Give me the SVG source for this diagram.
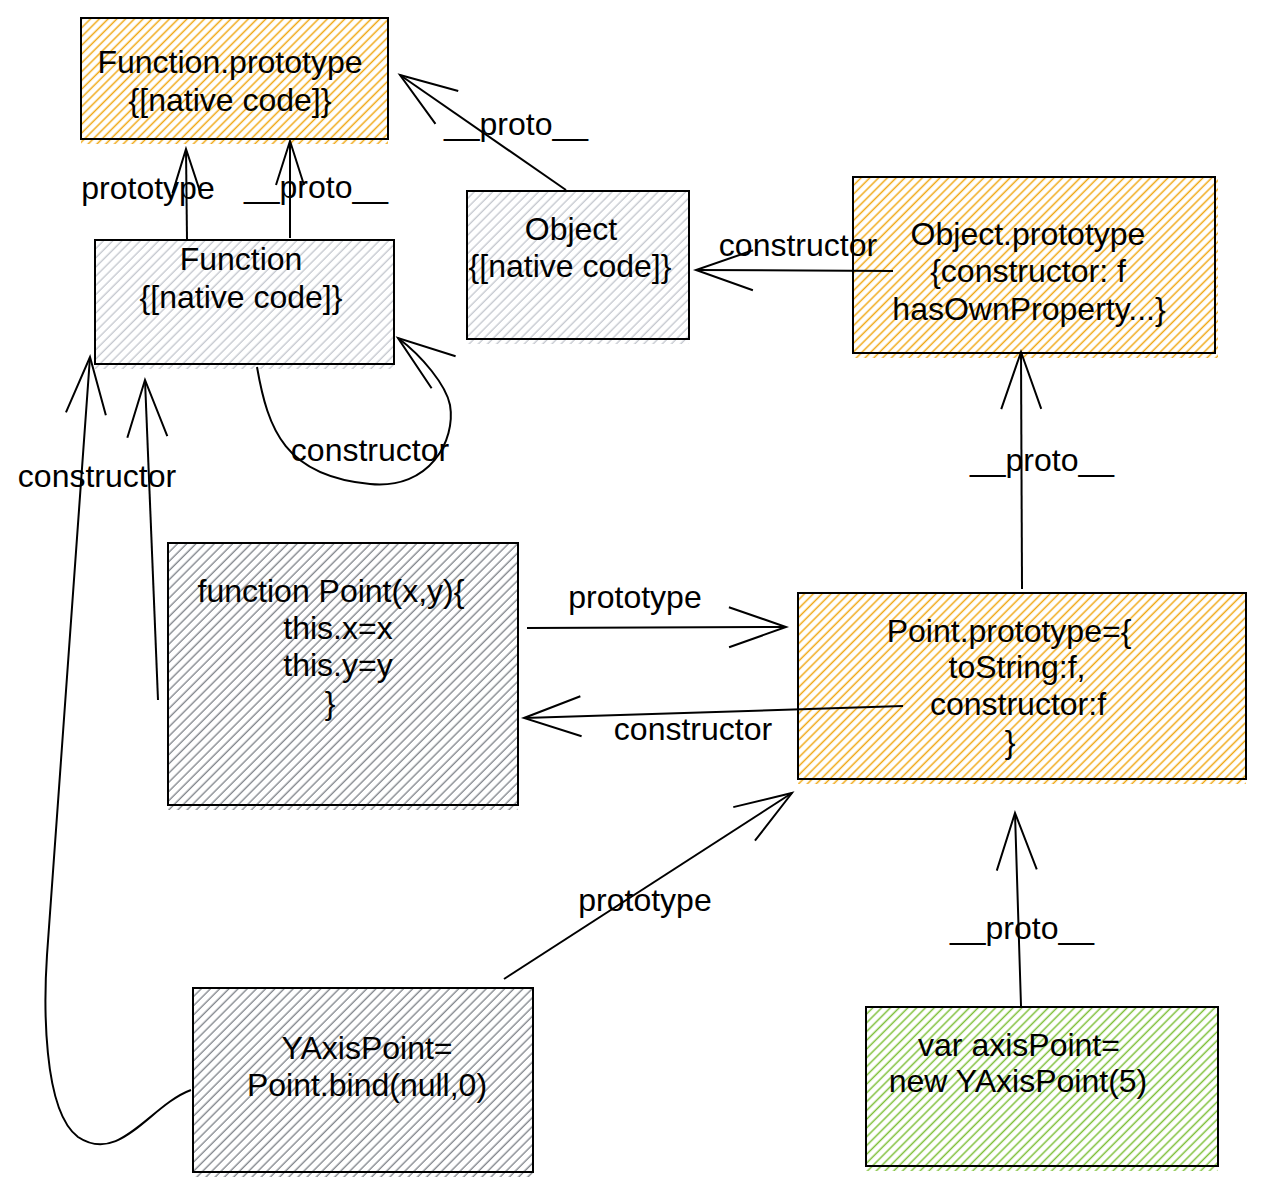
<svg xmlns="http://www.w3.org/2000/svg" width="1267" height="1194" viewBox="0 0 1267 1194">
<style>
text{font-family:"Liberation Sans",Arial,Helvetica,sans-serif;font-size:32px;fill:#000;text-anchor:middle}
.box{fill:none;stroke:#000;stroke-width:2}
.edge{fill:none;stroke:#000;stroke-width:2}
.big{marker-end:url(#arrowBig)}
.small{marker-end:url(#arrowSmall)}
</style>
<defs>
<pattern id="hOrange" patternUnits="userSpaceOnUse" width="6.2" height="6.2" patternTransform="rotate(45)"><line x1="3" y1="0" x2="3" y2="6.2" stroke="#f0a814" stroke-width="1.5"/></pattern>
<pattern id="hLight" patternUnits="userSpaceOnUse" width="6.5" height="6.5" patternTransform="rotate(45)"><line x1="3" y1="0" x2="3" y2="6.5" stroke="#c2c5cd" stroke-width="1.3"/></pattern>
<pattern id="hDark" patternUnits="userSpaceOnUse" width="6.5" height="6.5" patternTransform="rotate(45)"><line x1="3" y1="0" x2="3" y2="6.5" stroke="#7c8087" stroke-width="1.3"/></pattern>
<pattern id="hGreen" patternUnits="userSpaceOnUse" width="6.2" height="6.2" patternTransform="rotate(45)"><line x1="3" y1="0" x2="3" y2="6.2" stroke="#7dbf38" stroke-width="1.5"/></pattern>
<marker id="arrowBig" markerUnits="userSpaceOnUse" markerWidth="70" markerHeight="50" refX="0" refY="0" orient="auto" overflow="visible"><path d="M-57,-20 L0,0 L-57,20" fill="none" stroke="#000" stroke-width="2"/></marker>
<marker id="arrowSmall" markerUnits="userSpaceOnUse" markerWidth="60" markerHeight="40" refX="0" refY="0" orient="auto" overflow="visible"><path d="M-44,-14 L0,0 L-44,14" fill="none" stroke="#000" stroke-width="2"/></marker>
</defs>

<g id="node-function-prototype">
<rect x="81" y="18" width="307" height="126" fill="url(#hOrange)"/>
<rect class="box" x="81" y="18" width="307" height="121"/>
<text x="230" y="73">Function.prototype</text>
<text x="230" y="111">{[native code]}</text>
</g>

<g id="node-function">
<rect x="95" y="240" width="299" height="129" fill="url(#hLight)"/>
<rect class="box" x="95" y="240" width="299" height="124"/>
<text x="241" y="270">Function</text>
<text x="241" y="308">{[native code]}</text>
</g>

<g id="node-object">
<rect x="467" y="191" width="222" height="153" fill="url(#hLight)"/>
<rect class="box" x="467" y="191" width="222" height="148"/>
<text x="571" y="240">Object</text>
<text x="570" y="277">{[native code]}</text>
</g>

<g id="node-object-prototype">
<rect x="853" y="177" width="365" height="181" fill="url(#hOrange)"/>
<rect class="box" x="853" y="177" width="362" height="176"/>
<text x="1028" y="245">Object.prototype</text>
<text x="1028" y="282">{constructor: f</text>
<text x="1029" y="320">hasOwnProperty...}</text>
</g>

<g id="node-point">
<rect x="168" y="543" width="350" height="267" fill="url(#hDark)"/>
<rect class="box" x="168" y="543" width="350" height="262"/>
<text x="331" y="602">function Point(x,y){</text>
<text x="338" y="639">this.x=x</text>
<text x="338" y="676">this.y=y</text>
<text x="330" y="714">}</text>
</g>

<g id="node-point-prototype">
<rect x="798" y="593" width="448" height="191" fill="url(#hOrange)"/>
<rect class="box" x="798" y="593" width="448" height="186"/>
<text x="1009" y="642">Point.prototype={</text>
<text x="1017" y="678">toString:f,</text>
<text x="1018" y="715">constructor:f</text>
<text x="1010" y="753">}</text>
</g>

<g id="node-yaxispoint">
<rect x="193" y="988" width="340" height="189" fill="url(#hDark)"/>
<rect class="box" x="193" y="988" width="340" height="184"/>
<text x="367" y="1059">YAxisPoint=</text>
<text x="367" y="1096">Point.bind(null,0)</text>
</g>

<g id="node-axispoint">
<rect x="866" y="1007" width="352" height="164" fill="url(#hGreen)"/>
<rect class="box" x="866" y="1007" width="352" height="159"/>
<text x="1019" y="1056">var axisPoint=</text>
<text x="1018" y="1092">new YAxisPoint(5)</text>
</g>

<g id="connectors">
<g id="e-function-prototype">
<path class="edge small" d="M187,240 L186,149"/>
<text x="148" y="199">prototype</text>
</g>
<g id="e-function-proto">
<path class="edge small" d="M290,238 L290,141"/>
<text x="316" y="198">__proto__</text>
</g>
<g id="e-object-proto">
<path class="edge big" d="M566,190 L400,75"/>
<text x="516" y="135">__proto__</text>
</g>
<g id="e-objproto-constructor">
<path class="edge big" d="M893,271 L696,270"/>
<text x="798" y="256">constructor</text>
</g>
<g id="e-function-self">
<path class="edge big" d="M257,367 C268,430 285,476 370,484 C430,490 456,440 450,405 C446,385 422,356 398,338"/>
<text x="370" y="461">constructor</text>
</g>
<g id="e-point-constructor">
<path class="edge big" d="M158,700 L145,380"/>
<text x="97" y="487">constructor</text>
</g>
<g id="e-yaxis-constructor">
<path class="edge big" d="M191,1090 C150,1105 120,1165 78,1137 C42,1110 44,1000 47,955 L90,357"/>
</g>
<g id="e-point-prototype">
<path class="edge big" d="M527,628 L786,627"/>
<text x="635" y="608">prototype</text>
</g>
<g id="e-pointproto-constructor">
<path class="edge big" d="M903,706 L524,718"/>
<text x="693" y="740">constructor</text>
</g>
<g id="e-pointproto-proto">
<path class="edge big" d="M1022,589 L1021,352"/>
<text x="1042" y="471">__proto__</text>
</g>
<g id="e-yaxis-prototype">
<path class="edge big" d="M504,979 L792,793"/>
<text x="645" y="911">prototype</text>
</g>
<g id="e-axispoint-proto">
<path class="edge big" d="M1021,1006 L1015,813"/>
<text x="1022" y="939">__proto__</text>
</g>
</g>
</svg>
